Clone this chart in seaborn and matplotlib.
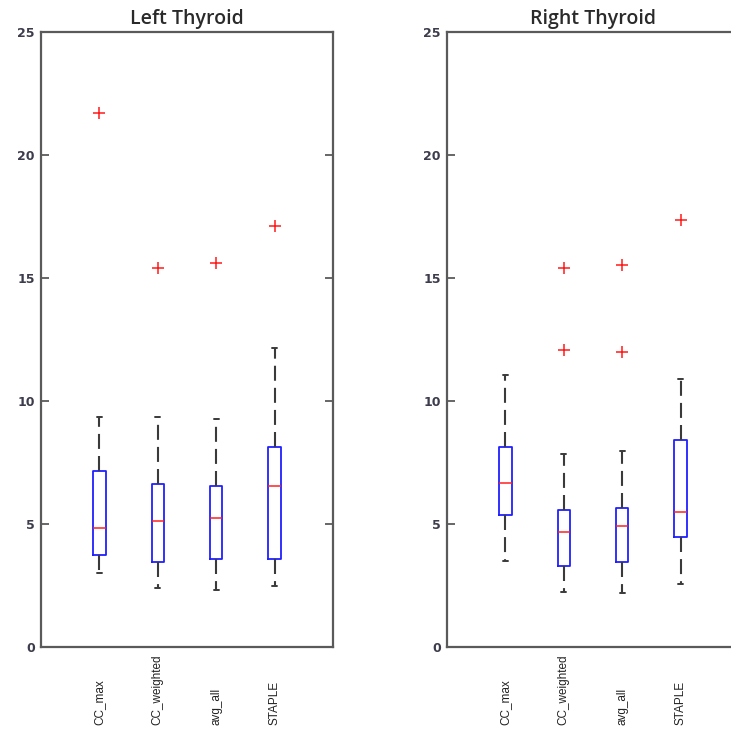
import numpy as np
import pandas as pd
import matplotlib
matplotlib.use("Agg")
import matplotlib.pyplot as plt
import seaborn as sns

# ---- data ----
methods = ["CC_max", "CC_weighted", "avg_all", "STAPLE"]
panels = ["Left Thyroid", "Right Thyroid"]

# five-number summaries: lower whisker, q1, median, q3, upper whisker
left_whislo = [3.02, 2.40, 2.33, 2.48]
left_q1 = [3.74, 3.44, 3.58, 3.58]
left_med = [4.82, 5.12, 5.24, 6.56]
left_q3 = [7.17, 6.64, 6.56, 8.14]
left_whishi = [9.34, 9.34, 9.26, 12.15]
left_outliers = [[21.7], [15.4], [15.6], [17.1]]

right_whislo = [3.51, 2.22, 2.18, 2.56]
right_q1 = [5.35, 3.30, 3.47, 4.48]
right_med = [6.68, 4.67, 4.93, 5.47]
right_q3 = [8.14, 5.58, 5.65, 8.43]
right_whishi = [11.04, 7.85, 7.96, 10.89]
right_outliers = [[], [12.06, 15.4], [11.99, 15.53], [17.35]]

y_ticks = [0, 5, 10, 15, 20, 25]


def build_sample(lo, q1, med, q3, hi, outs):
    """Sample whose quartiles / whiskers reproduce the read summary."""
    r = len(outs) + 1
    return [lo] + [q1] * r + [med] * r + [q3] * r + [hi] + list(outs)


def long_frame(whislo, q1, med, q3, whishi, outliers):
    rows = []
    for i, m in enumerate(methods):
        for v in build_sample(whislo[i], q1[i], med[i], q3[i], whishi[i], outliers[i]):
            rows.append({"method": m, "value": v})
    return pd.DataFrame(rows)


frames = [
    long_frame(left_whislo, left_q1, left_med, left_q3, left_whishi, left_outliers),
    long_frame(right_whislo, right_q1, right_med, right_q3, right_whishi, right_outliers),
]

sns.set_style("white")
plt.rcParams["font.family"] = ["Liberation Sans", "DejaVu Sans"]

W, H = 731, 733
fig = plt.figure(figsize=(W / 100, H / 100), dpi=100)
ax_w = 292 / W
ax_b = 1 - 647 / H
ax_h = (647 - 32) / H
axes = [fig.add_axes([41 / W, ax_b, ax_w, ax_h]),
        fig.add_axes([447 / W, ax_b, ax_w, ax_h])]

spine_col = "#5a5a5a"
for ax, df, title in zip(axes, frames, panels):
    sns.boxplot(
        data=df, x="method", y="value", order=methods, ax=ax,
        width=0.21, fill=False, whis=1.5,
        boxprops=dict(color="#2020ff", linewidth=1.3),
        medianprops=dict(color="#ff2020", linewidth=1.1),
        whiskerprops=dict(color="#3a3a3a", linewidth=1.5, linestyle=(0, (7.2, 3.4))),
        capprops=dict(color="#3a3a3a", linewidth=1.4),
        flierprops=dict(marker="+", markeredgecolor="#ff1a1a", markersize=9,
                        markeredgewidth=1.1, linestyle="none"),
        capwidths=0.08,
    )
    ax.set_xlim(-1, 4)
    ax.set_ylim(0, 25)
    ax.set_yticks(y_ticks)
    ax.set_yticklabels([str(t) for t in y_ticks], fontsize=9, fontweight="bold",
                       color="#3c3c4c", family=["DejaVu Sans"])
    ax.set_xticks(range(len(methods)))
    ax.set_xticklabels(methods, rotation=90, fontsize=8.5, color="#222222")
    plt.setp(ax.get_xticklabels(), va="bottom", ha="center")
    ax.tick_params(axis="x", length=0, pad=56)
    ax.tick_params(axis="y", direction="in", length=6, width=1.3, color=spine_col,
                   left=True, right=True, pad=4.5)
    ax.set_xlabel("")
    ax.set_ylabel("")
    for s in ax.spines.values():
        s.set_visible(True)
        s.set_color(spine_col)
        s.set_linewidth(1.6)
    ax.set_title(title, fontsize=14, color="#2a2a2a", pad=6,
                 family=["Open Sans", "DejaVu Sans"], fontweight="semibold")

fig.savefig("out.png", dpi=100, facecolor="white")
